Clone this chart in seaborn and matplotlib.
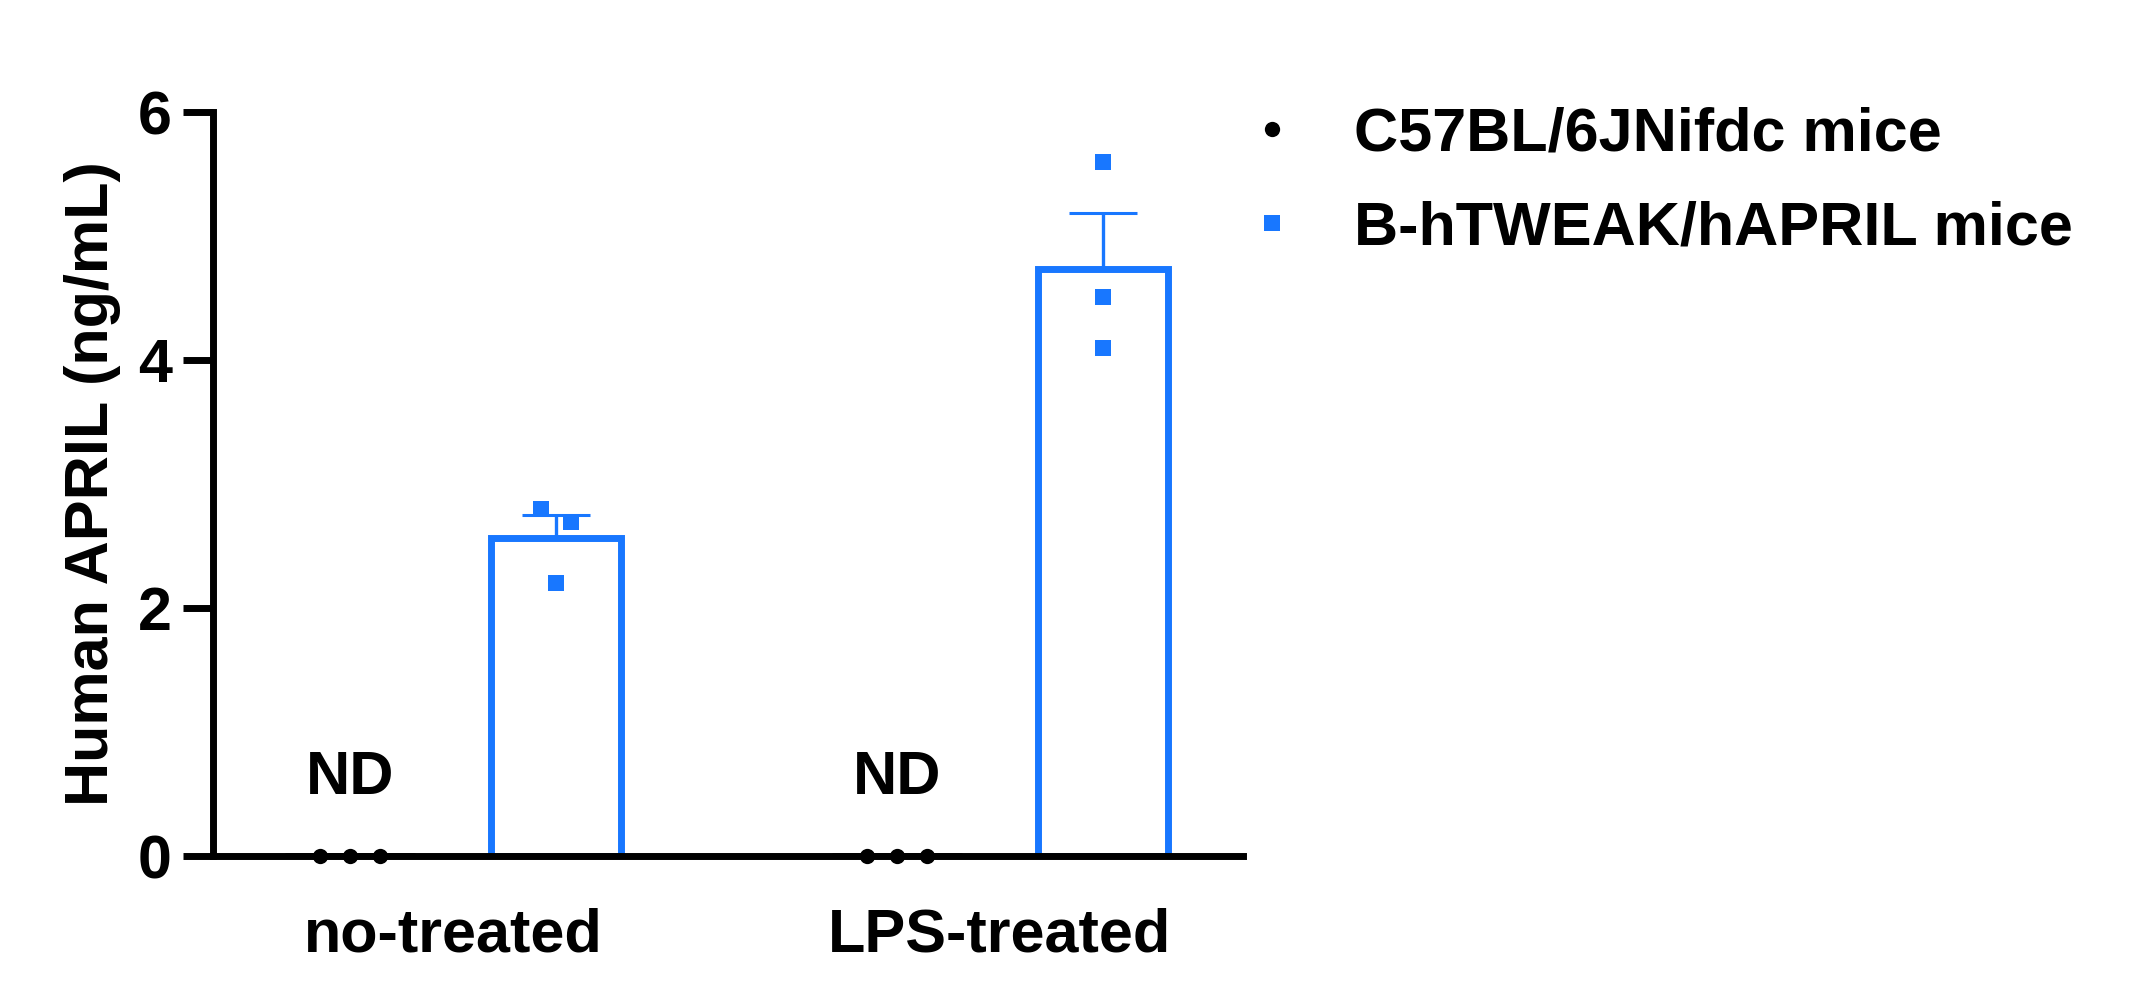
import numpy as np
import pandas as pd
import matplotlib
matplotlib.use("Agg")
import matplotlib.pyplot as plt
from matplotlib.lines import Line2D
import seaborn as sns

# ---------------- data ----------------
treatments = ["no-treated", "LPS-treated"]
strains = ["C57BL/6JNifdc mice", "B-hTWEAK/hAPRIL mice"]
c57_no_treated = [0.0, 0.0, 0.0]
c57_lps_treated = [0.0, 0.0, 0.0]
htw_no_treated = [2.80, 2.69, 2.20]
htw_lps_treated = [5.60, 4.51, 4.10]
y_ticks = [0, 2, 4, 6]
y_label = "Human APRIL (ng/mL)"
nd_label = "ND"

values = {
    (strains[0], treatments[0]): c57_no_treated,
    (strains[0], treatments[1]): c57_lps_treated,
    (strains[1], treatments[0]): htw_no_treated,
    (strains[1], treatments[1]): htw_lps_treated,
}
rows = []
for (s, t), vals in values.items():
    for v in vals:
        rows.append({"strain": s, "treatment": t, "value": v})
df = pd.DataFrame(rows)

# ---------------- style ----------------
sns.set_style("ticks")
plt.rcParams["font.family"] = ["Liberation Sans", "DejaVu Sans"]
plt.rcParams["font.weight"] = "bold"
plt.rcParams["text.color"] = "black"
plt.rcParams["axes.labelcolor"] = "black"
plt.rcParams["xtick.color"] = "black"
plt.rcParams["ytick.color"] = "black"
plt.rcParams["xtick.labelcolor"] = "black"
plt.rcParams["ytick.labelcolor"] = "black"
FS = 44
BLUE = "#1877ff"
palette = {strains[0]: "black", strains[1]: BLUE}
markers = {strains[0]: "o", strains[1]: "s"}
msize = {strains[0]: 11.0, strains[1]: 11.5}

TOTAL_W = 0.752
GAP = 0.367

fig = plt.figure(figsize=(21.37, 9.82), dpi=100)
ax = fig.add_axes([0.0997, 0.1283, 0.4820, 0.7576])

sns.barplot(data=df, x="treatment", y="value", hue="strain",
            order=treatments, hue_order=strains, palette=palette,
            fill=False, errorbar=None, width=TOTAL_W, gap=GAP,
            linewidth=5, legend=False, ax=ax, zorder=2)

n_h = len(strains)
hue_off = (np.arange(n_h) - (n_h - 1) / 2) * TOTAL_W / n_h


def spread(vals, step=0.055, thr=0.15):
    """Prism-like symmetric spreading of overlapping points."""
    vals = np.asarray(vals, float)
    order = np.argsort(-vals)
    offs = np.zeros(len(vals))
    groups = []
    for idx in order:
        if groups and abs(vals[groups[-1][-1]] - vals[idx]) < thr:
            groups[-1].append(idx)
        else:
            groups.append([idx])
    for g in groups:
        n = len(g)
        for k, idx in enumerate(g):
            offs[idx] = (k - (n - 1) / 2) * step
    return offs


for hi, s in enumerate(strains):
    for ti, t in enumerate(treatments):
        vals = np.asarray(values[(s, t)], float)
        xc = ti + hue_off[hi]
        xs = xc + spread(vals)
        ax.scatter(xs, vals, marker=markers[s], s=msize[s] ** 2,
                   color=palette[s], linewidths=0, zorder=5, clip_on=False)
        mean = vals.mean()
        if mean > 0:
            sem = vals.std(ddof=1) / np.sqrt(len(vals))
            ax.errorbar([xc], [mean], yerr=[[0], [sem]], fmt="none",
                        ecolor=palette[s], elinewidth=2.4, capsize=24.5,
                        capthick=2.2, zorder=3)
        else:
            ax.text(xc, 0.5, nd_label, ha="center", va="baseline",
                    fontsize=FS, fontweight="bold", color="black")

ax.set_xlim(-0.439, 1.445)
ax.set_ylim(0, 6)
ax.set_yticks(y_ticks)
ax.set_yticklabels([str(v) for v in y_ticks])
ax.set_xlabel("")
ax.set_ylabel(y_label, fontsize=FS, fontweight="bold", color="black")
ax.yaxis.set_label_coords(-0.089, 0.5)

for side in ["top", "right"]:
    ax.spines[side].set_visible(False)
for side in ["left", "bottom"]:
    ax.spines[side].set_linewidth(5)
    ax.spines[side].set_color("black")
    ax.spines[side].set_capstyle("projecting")

ax.tick_params(axis="y", length=21.6, width=5, pad=8, labelsize=FS,
               color="black", labelcolor="black")
ax.tick_params(axis="x", length=0, pad=37, labelsize=FS, labelcolor="black")
for lab in ax.get_xticklabels() + ax.get_yticklabels():
    lab.set_fontweight("bold")

handles = [Line2D([], [], linestyle="none", marker=markers[s],
                  markersize=msize[s], markerfacecolor=palette[s],
                  markeredgewidth=0, color=palette[s]) for s in strains]
leg = fig.legend(handles, strains, loc="upper left",
                 bbox_to_anchor=(0.588, 0.892), frameon=False,
                 prop={"size": FS, "weight": "bold"}, handlelength=0.5,
                 handletextpad=1.1, labelspacing=0.61, borderpad=0,
                 borderaxespad=0, labelcolor="black")

fig.savefig("out.png", dpi=100, facecolor="white")
